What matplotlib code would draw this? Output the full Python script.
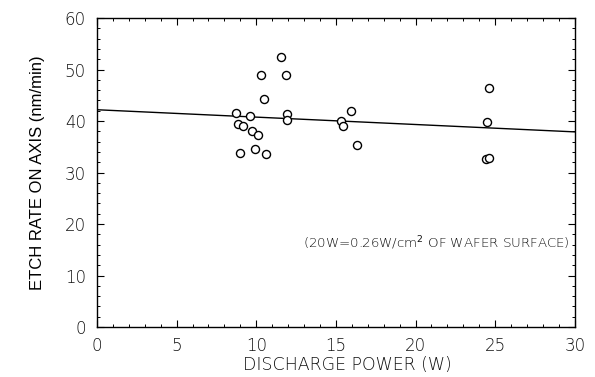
import matplotlib
matplotlib.use("Agg")
import matplotlib.pyplot as plt
import numpy as np
from matplotlib.ticker import MultipleLocator

# Measured etch rates versus discharge power
power_w = [11.55, 10.27, 11.88, 10.5, 8.7, 9.62, 11.95, 11.95, 8.87, 9.18,
           9.75, 10.09, 8.98, 9.9, 10.63, 15.98, 15.3, 15.44, 16.3,
           24.6, 24.5, 24.45, 24.6]
etch_rate = [52.4, 49.0, 49.0, 44.3, 41.6, 41.0, 41.4, 40.2, 39.5, 39.0,
             38.1, 37.3, 33.8, 34.6, 33.7, 42.0, 40.1, 39.0, 35.3,
             46.5, 39.9, 32.7, 32.8]

# Linear fit endpoints
fit_power = [0, 30]
fit_rate = [42.2, 37.9]

x_ticks = [0, 5, 10, 15, 20, 25, 30]
y_ticks = [0, 10, 20, 30, 40, 50, 60]

fig = plt.figure(figsize=(5.95, 3.77), dpi=100)
ax = fig.add_axes([0.163, 0.1326, 0.803, 0.8194])

ax.plot(fit_power, fit_rate, color="black", lw=1.0)
ax.plot(power_w, etch_rate, linestyle="none", marker="o", markersize=5.8,
        markerfacecolor="white", markeredgecolor="black", markeredgewidth=1.0)

ax.set_xlim(0, 30)
ax.set_ylim(0, 60)
ax.set_xticks(x_ticks)
ax.set_yticks(y_ticks)
ax.xaxis.set_minor_locator(MultipleLocator(1))
ax.yaxis.set_minor_locator(MultipleLocator(2))
ax.tick_params(which="both", direction="in", top=True, right=True,
               labelsize=12, labelcolor="#111111")
ax.tick_params(which="major", length=5, width=0.8)
ax.tick_params(which="minor", length=2.5, width=0.7)
ax.tick_params(axis="x", pad=7)
ax.tick_params(axis="y", pad=8)
for lab in ax.get_xticklabels() + ax.get_yticklabels():
    lab.set_fontweight("light")
for s in ax.spines.values():
    s.set_linewidth(1.0)

ax.set_xlabel("DISCHARGE POWER (W)", fontsize=12.5, fontweight="light",
              color="#111111")
ax.xaxis.set_label_coords(0.525, -0.095)
ax.set_ylabel("ETCH RATE ON AXIS (nm/min)", fontsize=12,
              family="Liberation Sans", labelpad=14)

ax.text(12.95, 16.3, r"(20W=0.26W/cm$^2$ OF WAFER SURFACE)", fontsize=9.6,
        fontweight="light", color="#111111", va="center", ha="left")

fig.savefig("out.png", dpi=100)
